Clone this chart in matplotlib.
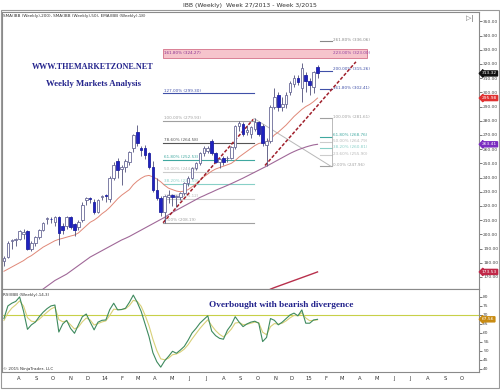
import numpy as np
import pandas as pd
import matplotlib
matplotlib.use('Agg')
import matplotlib.pyplot as plt
import matplotlib.dates as mdates
from matplotlib.patches import Rectangle
from matplotlib.ticker import FuncFormatter
from matplotlib.transforms import blended_transform_factory

nan = np.nan
start_date = '2013-07-05'

opens = [181, 184, 195, 196, 197, 200, 202, 189.5, 194, 198, 203, 210.5, 211, 208.5, 212, 206, 206, 212, 207, 205,
         210, 224, 225.5, 223, 216, 226.5, 227.3, 225, 240, 252, 246, 247.5, 251, 261, 272, 261, 261, 257, 247.5, 231,
         225.6, 216, 226, 227.5, 226, 226, 229, 236, 240, 246.8, 250, 257, 259, 266, 257, 251, 254, 253.5, 254, 261.5,
         276, 278, 272, 271, 274, 279, 276, 263, 266, 290, 298, 290, 292, 300, 306, 310, 303, 312, 308, 303.8, 318]
highs = [184.5, 195, 197, 197.5, 203, 203.5, 203, 195, 199, 204, 209, 212.5, 212.5, 213, 213, 208, 213, 213, 208, 210,
         223, 226.5, 226.5, 225, 225, 228, 228.5, 241, 251, 254, 249, 253, 259, 271, 277, 262.5, 263, 258, 252, 240,
         227, 228, 231, 228.5, 228, 230, 237, 241, 247.5, 251, 258, 262, 262, 267, 258, 254, 255, 255, 262.5, 277,
         280, 279, 277, 276, 281.61, 280, 278, 268, 291, 303, 300, 297, 300, 308, 312, 312, 320.7, 314, 310, 315, 319]
lows = [178, 183, 190, 192, 196, 197, 189, 188, 192, 197, 202, 207, 208, 206, 192.5, 200, 204, 204, 199, 203,
        209, 221, 222, 214, 215, 224, 223, 223, 238, 240, 235, 244, 249, 258, 262, 255, 253, 246, 230, 224,
        213, 208.19, 222, 220, 219, 224, 228, 234, 239, 245, 249, 255, 257, 256, 250, 247, 249, 251, 253, 260,
        273, 269, 270, 268, 273, 269, 262, 247.96, 264, 288, 287, 287, 289, 298, 304, 305, 293, 300, 298, 299.6, 310]
closes = [183.5, 194, 196, 196.5, 202, 201.5, 190, 194, 198, 203, 208, 211.5, 210.5, 212, 201, 203, 212, 205, 203, 209,
          221, 225.6, 225, 216, 224, 227, 227, 240, 249, 245, 247.5, 252, 258, 270, 264, 259.5, 256, 247.5, 231, 225.6,
          216, 227, 228, 226.5, 226.8, 229, 236, 240, 246.8, 250, 257, 261, 260.5, 257, 251, 253, 251, 254, 261.5, 276,
          278.5, 271, 273.5, 275.6, 279, 271, 264, 266, 290, 297, 290, 292, 298, 306.6, 310, 307, 317, 308, 305, 314, 313.32]

ema18 = [174, 175.5, 177, 178.5, 180, 181.5, 183.5, 185, 187, 189, 191, 192.5, 194, 195.5, 196.5, 197.2, 198, 198.8,
         199.5, 201, 203.5, 206, 208.5, 210, 212, 214.5, 216.5, 219, 222, 225, 227.5, 229.5, 231.5, 235, 237.5, 239.5,
         241, 241.5, 240.5, 239, 237, 234.5, 232.5, 231.5, 230.5, 230, 230.5, 231.5, 233.5, 235.5, 238, 240.5, 242.5,
         244.5, 246, 247, 248, 249, 250, 252, 254.5, 256.5, 258.5, 260.5, 262.5, 264, 264.5, 264.5, 267, 270, 272,
         274.5, 277, 280, 283, 285.5, 288, 290, 291.5, 293.5, 295.98]
sma50 = [nan] * 10 + [161.5, 163.5, 165.5, 167.5, 169, 170.5, 172, 174, 176, 178, 180, 182, 184, 185.5, 187, 188.5,
                      190, 191.5, 193, 194.5, 196, 197.2, 198.5, 200, 201.5, 203, 204.5, 206, 207.5, 209, 210.5, 212,
                      213.8, 215.5, 217, 218.5, 220, 221.5, 223, 224.5, 226, 227.2, 228.5, 229.7, 231, 232.2, 233.3,
                      234.5, 235.7, 237, 238.3, 239.6, 241, 242.4, 243.8, 245.2, 246.6, 248, 249.5, 251, 252.5, 254,
                      255.5, 257, 258.3, 259.5, 260.5, 261.5, 262.3, 263, 263.41]
sma200 = [nan] * 68 + [161.4, 162.5, 163.5, 164.5, 165.5, 166.5, 167.5, 168.5, 169.5, 170.5, 171.5, 172.5, 173.53]

rsi = [68, 75, 76.5, 77.5, 80, 72, 62, 64.5, 66, 69, 71.5, 73.5, 75, 75.5, 60.5, 65, 67, 62.5, 59.8, 64.5,
       69, 70.5, 66, 61.7, 66, 67, 67.2, 73, 76.5, 72.8, 73, 73.7, 77, 81, 77, 72, 65, 58, 49, 44,
       41, 44.5, 47, 49.8, 48.7, 50.5, 52.5, 56, 60, 62.5, 65.4, 67.5, 69.5, 61, 58.5, 57, 56.5, 61.5, 64.5, 69,
       66, 63.5, 65, 66, 66.5, 65.4, 55.2, 57.5, 68, 67, 64.5, 66, 68, 70, 71, 69.5, 72.8, 65.4, 65.4, 67.2, 67.56]
rsi_avg = [67, 71, 73.8, 75.6, 77.8, 74.9, 68.5, 66.5, 66.2, 67.6, 69.6, 71.5, 73.3, 74.4, 67.4, 66.2, 66.6, 64.5,
           62.2, 63.3, 66.2, 68.3, 67.2, 64.4, 65.2, 66.1, 66.7, 69.8, 73.2, 73, 73, 73.4, 75.2, 78.1, 77.5, 74.8,
           69.9, 64, 56.5, 50.2, 45.6, 45.1, 46, 47.9, 48.3, 49.4, 51, 53.5, 56.7, 59.6, 62.5, 65, 67.3, 64.1, 61.3,
           59.2, 57.8, 59.7, 62.1, 65.5, 65.8, 64.6, 64.8, 65.4, 66, 65.7, 60.4, 59, 63.5, 65.2, 64.9, 65.4, 66.7,
           68.4, 69.7, 69.6, 71.2, 68.3, 66.8, 67, 67.3]
month_letters = ['J', 'F', 'M', 'A', 'M', 'J', 'J', 'A', 'S', 'O', 'N', 'D']

# Fibonacci drawings (anchor prices and levels)
fibL_lo, fibL_hi = 208.19, 279.93
fibL_levels = [0, 23.6, 38.2, 50, 61.8, 78.6, 100, 127]
fibL_colors = ['#a0a0a0', '#cccccc', '#88d0c8', '#cccccc', '#40a8a0', '#555555', '#a0a0a0', '#4050a8']
fibL_band_top = 330.5
fibR_lo, fibR_hi = 247.96, 281.61
fibR_levels = [0, 23.6, 38.2, 50, 61.8, 100, 161.8, 200, 223, 261.8]
fibR_colors = ['#a0a0a0', '#cccccc', '#88d0c8', '#cccccc', '#40a8a0', '#a0a0a0', '#4050a8', '#4050a8', '#9040a0', '#888888']
# trend line anchors (week index, price)
trend1 = [(40.6, 208.19), (63.6, 281.0)]
trend2 = [(66.6, 248.5), (89.8, 321.5)]
connector = [(63.8, 281.61), (83.4, 247.96)]

W, H = 500, 390
fig = plt.figure(figsize=(5, 3.9), dpi=100)
fig.patch.set_facecolor('white')

def fx(px):
    return px / W

def fy(py):
    return 1 - py / H

x0 = mdates.date2num(pd.Timestamp(start_date))
def wk(i):
    return x0 + 7 * i

dates = pd.date_range(start_date, periods=len(closes), freq='7D')
xs = mdates.date2num(dates)
o = np.array(opens); h = np.array(highs); l = np.array(lows); c = np.array(closes)

ax = fig.add_axes([fx(2), fy(289), (479 - 2) / W, (289 - 12) / H])
rax = fig.add_axes([fx(2), fy(372), (479 - 2) / W, (372 - 289) / H], sharex=ax)
for a in (ax, rax):
    for s in a.spines.values():
        s.set_color('#8a8a8a'); s.set_linewidth(0.8)
    a.set_facecolor('white')

ax.set_xlim(wk(-0.5), wk(121.2))
ax.set_ylim(161.5, 356.6)

# moving averages
ax.plot(xs, sma200, color='#b8304c', lw=1.0, zorder=2)
ax.plot(xs, sma50, color='#a06898', lw=0.8, zorder=2)
ax.plot(xs, ema18, color='#e08878', lw=0.7, zorder=2)

# fib left
rng = fibL_hi - fibL_lo
for lev, col in zip(fibL_levels, fibL_colors):
    p = fibL_lo + rng * lev / 100
    ax.plot([wk(40.6), wk(63.8)], [p, p], color=col, lw=0.8, zorder=1)
    ax.text(wk(40.9), p + 0.6, f'{lev:.2f}% ({p:.2f})', fontsize=3, color=col if col != '#cccccc' else '#b8b8b8',
            va='bottom', ha='left', zorder=3)
pL = fibL_lo + rng * 1.618
ax.add_patch(Rectangle((wk(40.6), pL), wk(92.6) - wk(40.6), fibL_band_top - pL, fc='#f6c4cc', ec='#d47088', lw=0.6, zorder=1))
ax.text(wk(40.9), (pL + fibL_band_top) / 2, f'161.80% ({pL:.2f})', fontsize=3, color='#8a3090', va='center', ha='left', zorder=3)

# fib right
rngR = fibR_hi - fibR_lo
for lev, col in zip(fibR_levels, fibR_colors):
    p = fibR_lo + rngR * lev / 100
    if lev != 223:
        ax.plot([wk(80.6), wk(83.7)], [p, p], color=col, lw=0.8, zorder=1)
        yl = p + 1.0
    else:
        yl = (pL + fibL_band_top) / 2
    ax.text(wk(84.0), yl, f'{lev:.2f}% ({p:.2f})', fontsize=3, color=col if col != '#cccccc' else '#b8b8b8',
            va='center', ha='left', zorder=3)
ax.plot([wk(83.7), wk(83.7)], [fibR_lo, fibR_hi], color='#b0b0b0', lw=0.6, zorder=1)
ax.plot([wk(p[0]) for p in connector], [p[1] for p in connector], color='#b8b8b8', lw=0.7, zorder=1)

# trend lines
for tl in (trend1, trend2):
    ax.plot([wk(p[0]) for p in tl], [p[1] for p in tl], color='#a0202c', lw=1.1, ls=(0, (2.2, 1.2)), zorder=4)

# candles
up = c >= o
ax.vlines(xs, l, h, color='#50507a', lw=0.6, zorder=5)
bot = np.minimum(o, c)
hgt = np.maximum(np.abs(c - o), 0.5)
ax.bar(xs[up], hgt[up], bottom=bot[up], width=4.6, color='white', edgecolor='#6a6a98', lw=0.6, zorder=6)
ax.bar(xs[~up], hgt[~up], bottom=bot[~up], width=4.6, color='#1f22c0', edgecolor='#1f22a0', lw=0.6, zorder=6)

# axes ticks
ax.yaxis.tick_right()
ax.set_yticks(np.arange(170, 351, 10))
ax.yaxis.set_major_formatter(FuncFormatter(lambda v, p: f'{v:.2f}'))
ax.tick_params(axis='y', labelsize=3.2, length=2, width=0.5, pad=1, colors='#444444')
ax.tick_params(axis='x', bottom=False, labelbottom=False)

rax.set_ylim(38.3, 84.4)
rax.axhline(70, color='#c8d048', lw=0.8, zorder=1)
rax.plot(xs, rsi_avg, color='#d8d078', lw=0.8, zorder=2)
rax.plot(xs, rsi, color='#3e8a5e', lw=0.8, zorder=3)
rax.yaxis.tick_right()
rax.set_yticks(np.arange(40, 81, 5))
rax.tick_params(axis='y', labelsize=3.2, length=2, width=0.5, pad=1, colors='#444444')
rax.xaxis.set_major_locator(mdates.MonthLocator())
def mfmt(v, pos):
    d = mdates.num2date(v)
    return d.strftime('%y') if d.month == 1 else month_letters[d.month - 1]
rax.xaxis.set_major_formatter(FuncFormatter(mfmt))
rax.tick_params(axis='x', labelsize=3.8, length=0, pad=3, colors='#333333')

# price tags
def tag(a, val, col):
    tr = blended_transform_factory(a.transAxes, a.transData)
    a.text(1.006, val, f'{val:.2f}', transform=tr, fontsize=3.2, color='white', va='center', ha='left',
           bbox=dict(boxstyle='larrow,pad=0.12', fc=col, ec=col), clip_on=False, zorder=10)
tag(ax, closes[-1], '#111111')
tag(ax, ema18[-1], '#e03030')
tag(ax, sma50[-1], '#7a2cc0')
tag(ax, sma200[-1], '#c02848')
tag(rax, rsi[-1], '#c88a10')

# texts
fig.text(0.5, fy(5), 'IBB (Weekly)  Week 27/2013 - Week 3/2015', fontsize=4.4, ha='center', va='center', color='#333333')
fig.text(fx(3), fy(15.5), 'SMA(IBB (Weekly),200), SMA(IBB (Weekly),50), EMA(IBB (Weekly),18)', fontsize=3,
         ha='left', va='center', color='#333333')
fig.text(fx(3), fy(295), 'RSI(IBB (Weekly),14,3)', fontsize=3, ha='left', va='center', color='#333333')
fig.text(fx(3), fy(369), '\u00a9 2015 NinjaTrader, LLC', fontsize=3, ha='left', va='center', color='#333333')
banner = dict(family='Liberation Serif', weight='bold', color='#23238c', ha='center', va='center')
fig.text(fx(93), fy(67), 'WWW.THEMARKETZONE.NET', fontsize=5.9, **banner)
fig.text(fx(93), fy(84), 'Weekly Markets Analysis', fontsize=6.3, **banner)
fig.text(fx(281), fy(305), 'Overbought with bearish divergence', fontsize=6.7, **banner)
fig.text(fx(470), fy(18), '\u25b7|', fontsize=5, ha='center', va='center', color='#666666')

fig.add_artist(Rectangle((fx(0.5), fy(388)), (498.5) / W, (388 - 10) / H, transform=fig.transFigure,
                         fill=False, ec='#999999', lw=0.8))

fig.savefig('out.png', dpi=100, facecolor='white')
